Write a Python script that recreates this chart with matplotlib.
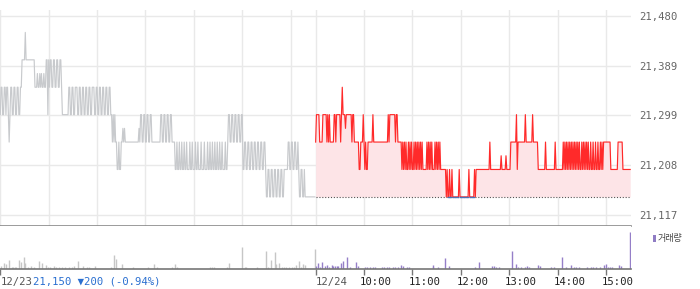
import numpy as np
import matplotlib
matplotlib.use("Agg")
import matplotlib.pyplot as plt
from matplotlib.patches import Rectangle
from matplotlib.transforms import ScaledTranslation, blended_transform_factory

# ---------------- data ----------------
# price level codes (one character per minute, 09:00 .. 15:30)
level_values = {'1': 21150, 'A': 21175, '2': 21200, 'B': 21225, '3': 21250,
                'C': 21275, '4': 21300, 'D': 21325, '5': 21350, 'E': 21375,
                '6': 21400, '7': 21450}

day1_levels = ("45544554554" "3" "455445544554455" "6666" "7" "66666666666"
               "555E55E5E55E556" "646" "5665566556655665" "44444444"
               "5544554455" "5445544554" "4554455445" "5544554455" "4455445544" "5544"
               "343433" "223223" "3C3C3" "333333333333333" "3C3"
               "4433443344334433" "333333333" "44334433443344" "3333"
               "2232232232" "2322322232" "2322232232" "2232223222" "3223223223" "2232232232" "223223"
               "443344334433443344"
               "2233223322" "3322332233" "223322332"
               "1122112211" "2211221122" "11"
               "22222" "3322332233223" "211221121" "111111111111")

day2_levels = ("3" "4444" "3333" "44444" "343433333" "4434444434"
               "5" "444" "C" "4444444" "344333333" "22" "333" "4" "323223" "33333" "4"
               "333333333333333333" "4344444443443" "3333"
               "2323232232" "3232232323" "232323" "22222" "3232323" "222" "3232323" "222222"
               "2121121121" "1111111" "2" "11111111111" "2" "11111" "12122"
               "222222222222222" "3" "2222222222222" "B" "22222" "B" "22222"
               "3333333" "4" "2" "333333333" "4" "33333333" "4" "333333"
               "222222222" "3" "22222222222" "3" "222222222"
               "3232323232323232323232" "23232323232" "232232232232232323"
               "33333333" "222222222" "333333" "2222222222")

base_price = 21150

# volume bars: minute since 09:00 and relative volume
vol1_min = [1, 5, 7, 11, 14, 16, 18, 20, 23, 26, 29, 31, 34, 38, 42, 48, 52, 57, 59, 62,
            66, 69, 73, 76, 80, 85, 89, 92, 96, 102, 108, 110, 118, 137, 141, 144, 151,
            164, 183, 191, 194, 213, 216, 219, 260, 263, 265, 281, 283, 300, 303, 305,
            318, 329, 332, 336, 340, 342, 346, 349, 352, 354, 358, 362, 364, 367, 370,
            373, 375, 378, 390]
vol1_val = [3, 5.3, 4.3, 8.3, 2, 2, 2, 2, 9, 7, 11.3, 5.3, 2, 2.3, 1.3, 7.3, 5.3, 3.3, 1.3, 1.3,
            2.3, 1.3, 1.3, 1.3, 1.3, 1.3, 1.3, 2.3, 7.3, 2.3, 2, 2, 2.3, 1.3, 13.3, 9.3, 4.3,
            1.3, 1.3, 4.3, 1.3, 1.3, 4.3, 1.3, 2, 2, 2, 1.5, 5.3, 21.3, 1.3, 1.3,
            1.3, 17.3, 1.3, 8.3, 16.3, 4.3, 5.3, 1.3, 1.3, 1.3, 1.3, 1.3, 1.3, 3.3, 7.3,
            1.3, 4.3, 3.3, 19.3]
vol2_min = [0, 3, 6, 8, 11, 14, 17, 20, 22, 24, 27, 28, 31, 34, 39, 42, 50, 53, 61, 64,
            67, 71, 74, 82, 85, 88, 91, 96, 99, 102, 106, 108, 113, 116, 145, 146, 152,
            160, 165, 198, 202, 219, 221, 224, 227, 244, 248, 251, 254, 260, 262, 265,
            276, 278, 292, 296, 306, 310, 316, 320, 323, 327, 337, 341, 344, 348, 352,
            357, 360, 362, 365, 368, 376, 378, 390]
vol2_val = [2.3, 5.3, 1.3, 6.3, 2.3, 3.3, 1.3, 3.3, 2.3, 2.3, 2.3, 2.3, 5.3, 7.3, 11.3, 1.3, 6.3, 2.3, 1.3, 1.3,
            1.3, 1.3, 1.3, 1.3, 1.3, 1.3, 1.3, 1.3, 1.3, 1.3, 3.3, 2.3, 1.3, 1.3, 3.3, 1.3, 1.3,
            10.3, 2.3, 1.3, 6.3, 2.3, 2.3, 1.3, 1.3, 17.3, 4.3, 1.3, 1.3, 1.3, 2.3, 1.3,
            3.3, 2.3, 1.3, 1.3, 11.3, 1.3, 3.3, 1.3, 1.3, 1.3, 1.3, 1.3, 1.3, 1.3, 1.3,
            3.3, 4.3, 1.3, 1.3, 1.3, 3.3, 2.3, 36.3]

ytick_labels = ["21,117", "21,208", "21,299", "21,389", "21,480"]
hour_labels = ["10:00", "11:00", "12:00", "13:00", "14:00", "15:00"]
date_labels = ["12/23", "12/24"]
change_text = "21,150 \u25bc200 (-0.94%)"
legend_text = "거래량"

# ---------------- layout ----------------
W, H = 700, 289
DAY2 = 391  # x offset (minutes) of 12/24 09:00


def fy(py):
    return 1 - py / H


fig = plt.figure(figsize=(W / 100, H / 100), dpi=100)
ax = fig.add_axes([0, fy(225.5), 631 / W, (225.5 - 10) / H])
axv = fig.add_axes([0, fy(268.5), 631 / W, (268.5 - 226) / H])

xlim = (-0.37, 782)
mono = "DejaVu Sans Mono"
fs = 7.7

p1 = np.array([level_values[c] for c in day1_levels], dtype=float)
p2 = np.array([level_values[c] for c in day2_levels], dtype=float)
t1 = np.arange(len(p1))
t2 = DAY2 + np.arange(len(p2))

# ---- price panel ----
ax.fill_between(t2, p2, base_price, color="#fde4e7", lw=0, zorder=1)
ax.plot([t2[0], t2[-1]], [base_price, base_price], color="#555555", lw=0.8,
        ls=(0, (1, 1.6)), zorder=2)
ax.plot(t1, p1, color="#c8cacd", lw=0.85, zorder=3)
ax.plot(t2, p2, color="#ff2a2a", lw=0.85, zorder=4)
blue = np.where(p2 <= base_price, p2, np.nan)
ax.plot(t2, blue, color="#4a72b8", lw=1.0, zorder=5)

ax.set_xlim(*xlim)
ax.set_ylim(21097.8, 21490.9)
yt = np.linspace(21117, 21480, 5)
ax.set_yticks(yt)
ax.set_yticklabels(ytick_labels, fontfamily=mono, fontsize=fs, color="#666666")
ax.yaxis.set_ticks_position("right")
ax.tick_params(axis="y", length=0, pad=5.8)
grid_x = [0, 60, 120, 180, 240, 300, 360, DAY2, DAY2 + 60, DAY2 + 120, DAY2 + 180,
          DAY2 + 240, DAY2 + 300, DAY2 + 360]
ax.set_xticks(grid_x)
ax.tick_params(axis="x", length=0, labelbottom=False)
ax.grid(True, color="#e9e9e9", lw=1.0, zorder=0)
ax.set_axisbelow(True)
for s in ["top", "left", "right"]:
    ax.spines[s].set_visible(False)
ax.spines["bottom"].set_color("#8a8a8a")
ax.spines["bottom"].set_linewidth(1.2)

# ---- volume panel ----
axv.vlines(vol1_min, 0, vol1_val, color="#c6c6c6", lw=1.0)
axv.vlines(DAY2 + np.array(vol2_min), 0, vol2_val, color="#957fc8", lw=1.0)
axv.set_xlim(*xlim)
axv.set_ylim(0, 42.5)
axv.set_yticks([])
tick_x = [0, DAY2] + [DAY2 + 60 * k for k in range(1, 7)]
axv.set_xticks(tick_x)
axv.tick_params(axis="x", length=4, width=1, color="#777777", labelbottom=False, direction="out")
for s in ["top", "left", "right"]:
    axv.spines[s].set_visible(False)
axv.spines["bottom"].set_color("#777777")
axv.spines["bottom"].set_linewidth(1.2)

# ---- bottom labels ----
tr = blended_transform_factory(axv.transData, fig.transFigure)
ylab = fy(282)
axv.text(0, ylab, date_labels[0], transform=tr, ha="left", va="center",
         fontfamily=mono, fontsize=fs, color="#555555", clip_on=False)
axv.text(0, ylab, change_text, transform=tr + ScaledTranslation(33 / 100, 0, fig.dpi_scale_trans),
         ha="left", va="center", fontfamily=mono, fontsize=fs, color="#2a6fd0", clip_on=False)
axv.text(DAY2, ylab, date_labels[1], transform=tr, ha="left", va="center",
         fontfamily=mono, fontsize=fs, color="#555555", clip_on=False)
for k, lab in enumerate(hour_labels):
    axv.text(DAY2 + 60 * (k + 1), ylab, lab,
             transform=tr + ScaledTranslation(-4 / 100, 0, fig.dpi_scale_trans),
             ha="left", va="center", fontfamily=mono, fontsize=fs, color="#222222",
             clip_on=False)

# ---- legend ----
fig.patches.append(Rectangle((653 / W, fy(241.5)), 3 / W, 7 / H, transform=fig.transFigure,
                             color="#8f7cc4", lw=0))
fig.text(658 / W, fy(238), legend_text, ha="left", va="center", fontsize=6.5,
         family=["Noto Sans CJK KR", "DejaVu Sans"], color="#444444")

fig.savefig("out.png", dpi=100)
